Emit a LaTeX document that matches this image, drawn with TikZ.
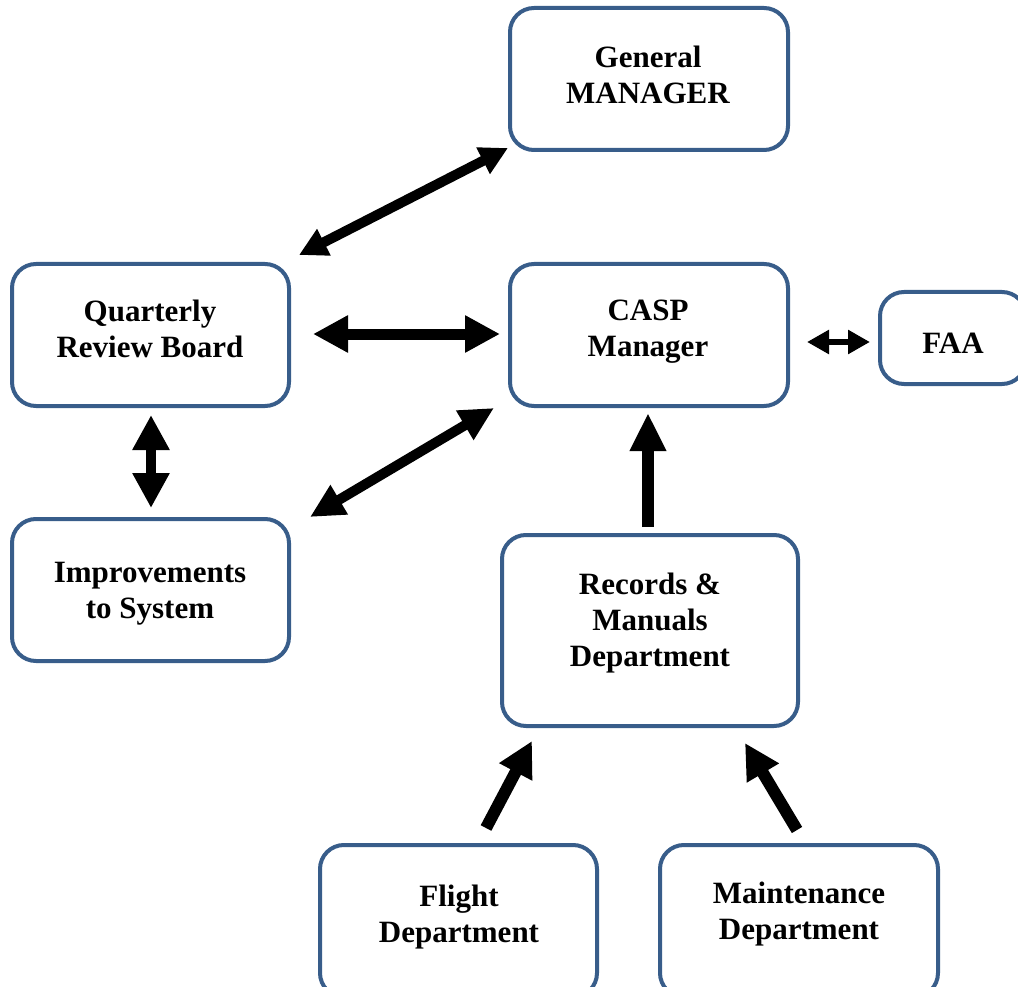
\documentclass[tikz,border=0pt]{standalone}
\usepackage{fontspec}
\setmainfont{Liberation Serif}
\usetikzlibrary{arrows.meta}
\definecolor{boxblue}{HTML}{385D8A}
\begin{document}
\begin{tikzpicture}[x=1pt,y=-1pt,
  box/.style={draw=boxblue, line width=4pt, rounded corners=24pt, inner sep=0pt},
  lbl/.style={font=\fontsize{31}{36}\selectfont\bfseries, align=center, inner sep=0pt},
  conn/.style={draw=black}]
\useasboundingbox (0,0) rectangle (1018,987);
\clip (0,0) rectangle (1018,987);
% boxes
\node[box, minimum width=278pt, minimum height=142pt] (gm) at (649,79) {};
\node[box, minimum width=277pt, minimum height=142pt] (qrb) at (150.5,335) {};
\node[box, minimum width=278pt, minimum height=142pt] (casp) at (649,335) {};
\node[box, minimum width=146pt, minimum height=92pt] (faa) at (953,338) {};
\node[box, minimum width=277pt, minimum height=142pt] (imp) at (150.5,590) {};
\node[box, minimum width=296pt, minimum height=191pt] (rec) at (650,630.5) {};
\node[box, minimum width=277pt, minimum height=152pt] (fl) at (458.5,921) {};
\node[box, minimum width=278pt, minimum height=152pt] (mt) at (799,921) {};
% texts
\node[lbl] (gmt) at (648,75) {General\\MANAGER};
\node[lbl] (qrbt) at (150,329) {Quarterly\\Review Board};
\node[lbl] (caspt) at (648,332) {CASP\\Manager};
\node[lbl] (faat) at (953,343) {FAA};
\node[lbl] (impt) at (150,594) {Improvements\\to System};
\node[lbl] (rect) at (650,623) {Records \&\\Manuals\\Department};
\node[lbl] (flt) at (459,917.5) {Flight\\Department};
\node[lbl] (mtt) at (799,914.5) {Maintenance\\Department};
% connector end points
\coordinate (a1s) at (299,255); \coordinate (a1e) at (508,148);
\coordinate (a2s) at (313,334); \coordinate (a2e) at (500,334);
\coordinate (a3s) at (807,342); \coordinate (a3e) at (870,342);
\coordinate (a4s) at (151,415); \coordinate (a4e) at (151,508);
\coordinate (a5s) at (310,517); \coordinate (a5e) at (494,408);
\coordinate (a6s) at (648,527); \coordinate (a6e) at (648,413);
\coordinate (a7s) at (486,828); \coordinate (a7e) at (532,741);
\coordinate (a8s) at (797,830); \coordinate (a8e) at (745,743);
% connectors
\draw[conn, line width=10pt, {Triangle[width=28pt,length=28pt]}-{Triangle[width=28pt,length=28pt]}] (a1s) -- (a1e);
\draw[conn, line width=11pt, {Triangle[width=35pt,length=35pt]}-{Triangle[width=35pt,length=35pt]}] (a2s) -- (a2e);
\draw[conn, line width=6pt, {Triangle[width=23pt,length=22pt]}-{Triangle[width=23pt,length=22pt]}] (a3s) -- (a3e);
\draw[conn, line width=10pt, {Triangle[width=35pt,length=35pt]}-{Triangle[width=35pt,length=35pt]}] (a4s) -- (a4e);
\draw[conn, line width=10pt, {Triangle[width=32pt,length=34pt]}-{Triangle[width=32pt,length=34pt]}] (a5s) -- (a5e);
\draw[conn, line width=12pt, -{Triangle[width=34pt,length=38pt]}] (a6s) -- (a6e);
\draw[conn, line width=12pt, -{Triangle[width=35pt,length=35pt]}] (a7s) -- (a7e);
\draw[conn, line width=12pt, -{Triangle[width=35pt,length=35pt]}] (a8s) -- (a8e);
\end{tikzpicture}
\end{document}
